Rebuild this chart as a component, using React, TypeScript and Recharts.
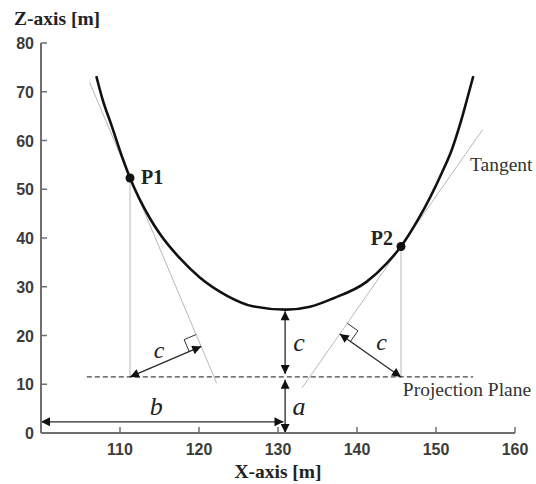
import React from 'react';
import { ComposedChart, Line, XAxis, YAxis, ReferenceDot, Label } from 'recharts';

// ---- data ----
const CURVE_X = [107.0, 107.8, 108.95, 110.34, 111.27, 113.8, 115.06, 117.6, 120.1, 123.5, 126.8, 131.0, 134.05, 136.96, 141.2, 143.76, 145.57, 147.7, 150.72, 152.0, 153.04, 153.89, 154.72];
const CURVE_Z = [73.2, 68.4, 63.0, 56.3, 52.3, 44.0, 40.8, 35.8, 31.9, 28.2, 26.0, 25.3, 25.9, 27.6, 31.0, 34.8, 38.26, 43.7, 53.3, 58.1, 63.3, 68.2, 73.2];

const X_TICKS = [110, 120, 130, 140, 150, 160];
const Z_TICKS = [0, 10, 20, 30, 40, 50, 60, 70, 80];

const POINT_NAMES = ['P1', 'P2'];
const POINT_X = [111.27, 145.57];
const POINT_Z = [52.3, 38.26];

const TANGENT1_X = [106.15, 122.24];
const TANGENT1_Z = [71.94, 10.2];
const TANGENT2_X = [133.04, 155.9];
const TANGENT2_Z = [9.24, 62.23];

const PLANE_X = [105.8, 154.7];
const PLANE_Z = 11.5;

const C1_X = [111.27, 120.28];
const C1_Z = [11.5, 17.75];
const C2_X = [145.57, 137.82];
const C2_Z = [11.5, 20.31];

const SQ1_X = [119.64, 118.12, 118.76];
const SQ1_Z = [20.2, 19.16, 16.71];
const SQ2_X = [138.77, 140.12, 139.17];
const SQ2_Z = [22.5, 20.97, 18.78];

const MID_X = 130.9;
const C_MID_Z = [25.0, 12.1];
const A_Z = [10.9, 0.0];
const B_X = [100.0, 130.7];
const B_Z = 2.3;

const TEXT_LABELS = ['b', 'a', 'c', 'c', 'c'];
const TEXT_X = [114.6, 132.66, 132.66, 114.94, 143.1];
const TEXT_Z = [3.7, 3.7, 16.8, 15.4, 17.0];

const TANGENT_LABEL = { text: 'Tangent', x: 154.3, z: 53.8 };
const PLANE_LABEL = { text: 'Projection Plane', x: 145.8, z: 7.6 };

// ---- derived series ----
const pairs = (xs: number[], zs: number[]) => xs.map((x, i) => ({ x, z: zs[i] }));
const curveData = pairs(CURVE_X, CURVE_Z);
const tangent1 = pairs(TANGENT1_X, TANGENT1_Z);
const tangent2 = pairs(TANGENT2_X, TANGENT2_Z);
const plane = PLANE_X.map((x) => ({ x, z: PLANE_Z }));
const drop1 = [{ x: POINT_X[0], z: POINT_Z[0] }, { x: POINT_X[0], z: PLANE_Z }];
const drop2 = [{ x: POINT_X[1], z: POINT_Z[1] }, { x: POINT_X[1], z: PLANE_Z }];
const c1 = pairs(C1_X, C1_Z);
const c2 = pairs(C2_X, C2_Z);
const sq1 = pairs(SQ1_X, SQ1_Z);
const sq2 = pairs(SQ2_X, SQ2_Z);
const cMid = C_MID_Z.map((z) => ({ x: MID_X, z }));
const aArrow = A_Z.map((z) => ({ x: MID_X, z }));
const bArrow = B_X.map((x) => ({ x, z: B_Z }));

const SERIF = "'Liberation Serif', 'Times New Roman', serif";
const SANS = "'Liberation Sans', Arial, sans-serif";
const AXIS_GRAY = '#6f6f6f';
const THIN_GRAY = '#b8b8b8';

const XTick = (props: any) => {
  const { x, y, payload } = props;
  return (
    <g>
      <line x1={x} y1={y} x2={x} y2={y - 6} stroke={AXIS_GRAY} strokeWidth={1.5} />
      <text x={x} y={y + 22} textAnchor="middle" fontFamily={SANS} fontWeight="bold" fontSize={16} fill="#3c3c3c">
        {payload.value}
      </text>
    </g>
  );
};

const YTick = (props: any) => {
  const { x, y, payload } = props;
  return (
    <g>
      <line x1={x} y1={y} x2={x + 6} y2={y} stroke={AXIS_GRAY} strokeWidth={1.5} />
      <text x={x - 7} y={y + 6} textAnchor="end" fontFamily={SANS} fontWeight="bold" fontSize={16} fill="#3c3c3c">
        {payload.value}
      </text>
    </g>
  );
};

const textShape = (text: string, opts: any) => (p: any) => (
  <text
    x={p.cx + (opts.dx || 0)}
    y={p.cy + (opts.dy || 0)}
    textAnchor={opts.anchor || 'middle'}
    fontFamily={SERIF}
    fontSize={opts.size}
    fontWeight={opts.bold ? 'bold' : 'normal'}
    fontStyle={opts.italic ? 'italic' : 'normal'}
    fill={opts.fill || '#222'}
  >
    {text}
  </text>
);

export default function App() {
  const arrowProps = {
    stroke: '#2a2a2a',
    strokeWidth: 1.3,
    dot: false,
    activeDot: false,
    isAnimationActive: false,
    type: 'linear' as const,
    markerStart: 'url(#arrowHead)',
    markerEnd: 'url(#arrowHead)',
  };
  return (
    <div style={{ position: 'absolute', left: 0, top: 0, width: 536, height: 484, overflow: 'hidden', background: '#fff' }}>
      <ComposedChart width={536} height={484} margin={{ top: 43, right: 21, bottom: 21, left: 0 }} style={{ overflow: 'visible' }}>
        <defs>
          <marker
            id="arrowHead"
            viewBox="0 0 10 10"
            refX="10"
            refY="5"
            markerWidth="11"
            markerHeight="9"
            markerUnits="userSpaceOnUse"
            orient="auto-start-reverse"
          >
            <path d="M0,0 L10,5 L0,10 z" fill="#111" />
          </marker>
        </defs>
        <XAxis
          dataKey="x"
          type="number"
          domain={[100, 160]}
          ticks={X_TICKS}
          allowDataOverflow
          height={30}
          tickSize={0}
          tickMargin={0}
          tickLine={false}
          axisLine={{ stroke: AXIS_GRAY, strokeWidth: 2 }}
          tick={<XTick />}
        >
          <Label
            content={(p: any) => (
              <text
                x={p.viewBox.x + p.viewBox.width / 2}
                y={p.viewBox.y + 45}
                textAnchor="middle"
                fontFamily={SERIF}
                fontWeight="bold"
                fontSize={19.5}
                fill="#222"
              >
                X-axis [m]
              </text>
            )}
          />
        </XAxis>
        <YAxis
          dataKey="z"
          type="number"
          domain={[0, 80]}
          ticks={Z_TICKS}
          allowDataOverflow
          width={41}
          tickSize={0}
          tickMargin={0}
          tickLine={false}
          axisLine={{ stroke: AXIS_GRAY, strokeWidth: 2 }}
          tick={<YTick />}
        >
          <Label
            content={(p: any) => (
              <text
                x={p.viewBox.x + 14}
                y={p.viewBox.y - 18}
                textAnchor="start"
                fontFamily={SERIF}
                fontWeight="bold"
                fontSize={19.5}
                fill="#222"
              >
                Z-axis [m]
              </text>
            )}
          />
        </YAxis>

        <Line data={tangent1} dataKey="z" type="linear" stroke={THIN_GRAY} strokeWidth={1} dot={false} activeDot={false} isAnimationActive={false} />
        <Line data={tangent2} dataKey="z" type="linear" stroke={THIN_GRAY} strokeWidth={1} dot={false} activeDot={false} isAnimationActive={false} />
        <Line data={drop1} dataKey="z" type="linear" stroke={THIN_GRAY} strokeWidth={1} dot={false} activeDot={false} isAnimationActive={false} />
        <Line data={drop2} dataKey="z" type="linear" stroke={THIN_GRAY} strokeWidth={1} dot={false} activeDot={false} isAnimationActive={false} />
        <Line data={plane} dataKey="z" type="linear" stroke="#444" strokeWidth={1.3} strokeDasharray="5 3" dot={false} activeDot={false} isAnimationActive={false} />
        <Line data={sq1} dataKey="z" type="linear" stroke="#333" strokeWidth={1} dot={false} activeDot={false} isAnimationActive={false} />
        <Line data={sq2} dataKey="z" type="linear" stroke="#333" strokeWidth={1} dot={false} activeDot={false} isAnimationActive={false} />
        <Line data={c1} dataKey="z" {...arrowProps} />
        <Line data={c2} dataKey="z" {...arrowProps} />
        <Line data={cMid} dataKey="z" {...arrowProps} />
        <Line data={aArrow} dataKey="z" {...arrowProps} />
        <Line data={bArrow} dataKey="z" {...arrowProps} />
        <Line data={curveData} dataKey="z" type="monotone" stroke="#111" strokeWidth={2.6} dot={false} activeDot={false} isAnimationActive={false} />

        {POINT_NAMES.map((name, i) => (
          <ReferenceDot key={'pt' + name} x={POINT_X[i]} y={POINT_Z[i]} r={4.5} fill="#111" stroke="none" ifOverflow="visible" />
        ))}
        <ReferenceDot x={POINT_X[0]} y={POINT_Z[0]} ifOverflow="visible" shape={textShape(POINT_NAMES[0], { dx: 11, dy: 6, size: 20, bold: true, anchor: 'start' })} />
        <ReferenceDot x={POINT_X[1]} y={POINT_Z[1]} ifOverflow="visible" shape={textShape(POINT_NAMES[1], { dx: -8, dy: -1, size: 20, bold: true, anchor: 'end' })} />
        <ReferenceDot x={TANGENT_LABEL.x} y={TANGENT_LABEL.z} ifOverflow="visible" shape={textShape(TANGENT_LABEL.text, { size: 19.5, anchor: 'start', fill: '#333' })} />
        <ReferenceDot x={PLANE_LABEL.x} y={PLANE_LABEL.z} ifOverflow="visible" shape={textShape(PLANE_LABEL.text, { size: 19.5, anchor: 'start', fill: '#333' })} />
        {TEXT_LABELS.map((t, i) => (
          <ReferenceDot
            key={'lbl' + i}
            x={TEXT_X[i]}
            y={TEXT_Z[i]}
            ifOverflow="visible"
            shape={textShape(t, { size: i < 3 ? 26 : 24, italic: true })}
          />
        ))}
      </ComposedChart>
    </div>
  );
}
